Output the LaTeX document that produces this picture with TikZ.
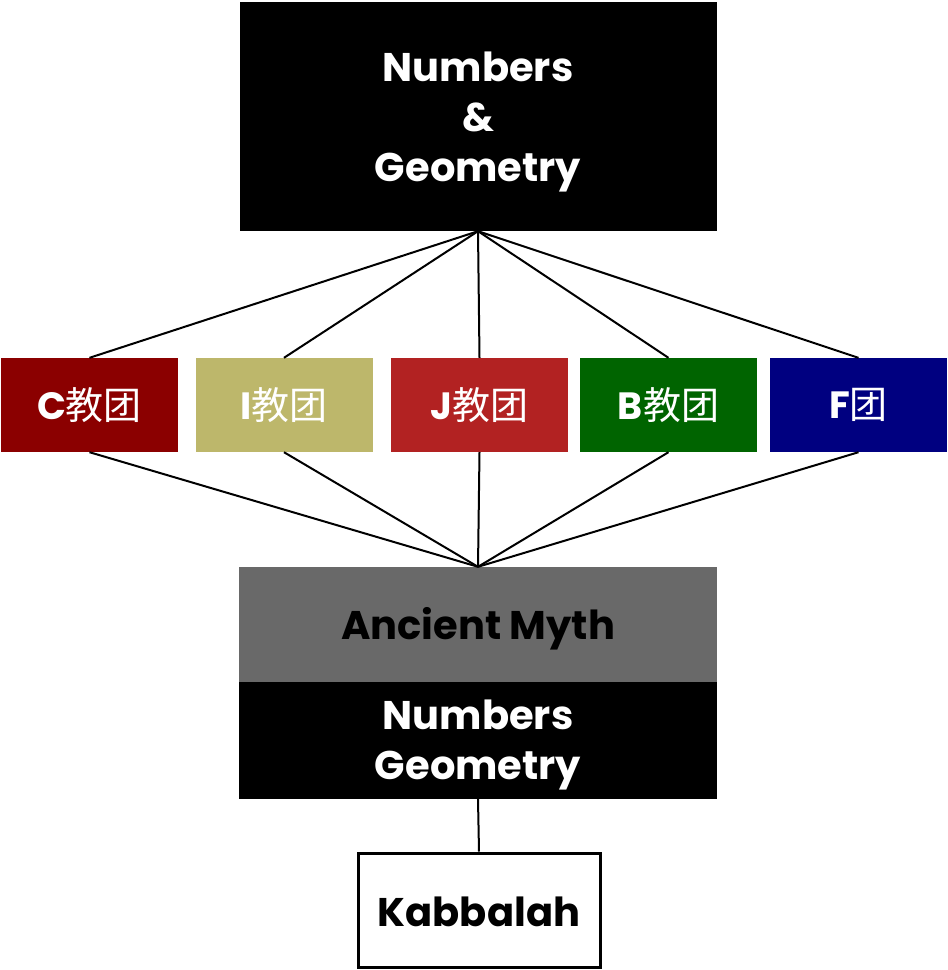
\documentclass[tikz,border=0pt]{standalone}
\usepackage{fontspec}
\setmainfont{Poppins}
\newfontfamily\cjk{Noto Sans CJK SC}
\begin{document}
\begin{tikzpicture}[x=1pt,y=-1pt,
  blk/.style={rectangle, inner sep=0pt},
  txt/.style={align=center, inner sep=0pt, font=\fontsize{40}{50}\selectfont\bfseries},
  grp/.style={rectangle, inner sep=0pt, minimum width=177pt, minimum height=94pt, text=white, font=\fontsize{38}{46}\selectfont\bfseries},
  link/.style={draw=black, line width=2pt}]
\useasboundingbox (0,0) rectangle (948,970);
\definecolor{cC}{HTML}{8B0000}
\definecolor{cI}{HTML}{BDB76B}
\definecolor{cJ}{HTML}{B22222}
\definecolor{cB}{HTML}{006400}
\definecolor{cF}{HTML}{000080}
\definecolor{cG}{HTML}{696969}
\node[blk, fill=black, minimum width=477pt, minimum height=229pt] (top) at (478,116.5) {};
\node[txt, text=white] (toptxt) at (478,121.5) {Numbers\\\&\\Geometry};
\node[grp, fill=cC] (c) at (89.5,405) {C{\cjk\mdseries 教团}};
\node[grp, fill=cI] (i) at (284,405) {I{\cjk\mdseries 教团}};
\node[grp, fill=cJ] (j) at (479.5,405) {J{\cjk\mdseries 教团}};
\node[grp, fill=cB] (b) at (668.5,405) {B{\cjk\mdseries 教团}};
\node[grp, fill=cF] (f) at (858.5,405) {F{\cjk\mdseries 团}};
\node[blk, fill=cG, minimum width=478pt, minimum height=115pt] (myth) at (478,624.5) {};
\node[txt, text=black] (mythtxt) at (478,629) {Ancient Myth};
\node[blk, fill=black, minimum width=478pt, minimum height=117pt] (num) at (478,740.5) {};
\node[txt, text=white] (numtxt) at (478,745) {Numbers\\Geometry};
\node[blk, draw=black, line width=3pt, fill=white, minimum width=242pt, minimum height=114pt] (kab) at (479,910) {};
\node[txt, text=black] (kabtxt) at (479,912) {Kabbalah};
\foreach \n in {c,i,j,b,f}{
  \draw[link] (top.south) -- (\n.north);
  \draw[link] (\n.south) -- (myth.north);
}
\draw[link] (num.south) -- (kab.north);
\end{tikzpicture}
\end{document}
